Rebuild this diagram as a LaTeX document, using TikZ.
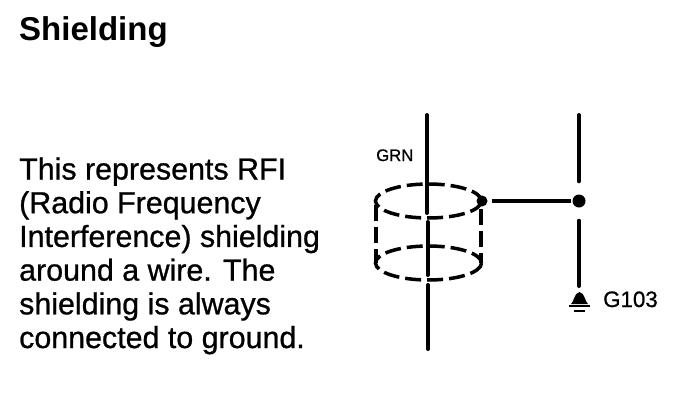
\documentclass[tikz,border=0pt]{standalone}
\usepackage{fontspec}
\setmainfont{Liberation Sans}
\newfontfamily\heavyfont[FakeBold=0.8]{Liberation Sans}
\begin{document}
\begin{tikzpicture}
  [
    x=1pt, y=-1pt,
    wire/.style={line width=4pt, line cap=round},
    shield/.style={line width=3.5pt, dash pattern=on 16pt off 6pt},
    splice/.style={circle, fill=black, inner sep=0pt, minimum size=#1},
    body/.style={anchor=base west, inner sep=0pt, align=left, font=\heavyfont\fontsize{30.4}{33.7}\selectfont},
    heading/.style={anchor=base west, inner sep=0pt, font=\bfseries\fontsize{33}{33}\selectfont},
    tag/.style={inner sep=0pt, font=\heavyfont\fontsize{#1}{#1}\selectfont}
  ]
  \useasboundingbox (0, 0) rectangle (688, 404);

  \node[heading] (title) at (19, 41) {Shielding};
  \node[body] (text) at (19, 348) {This represents RFI\\(Radio Frequency\\Interference) shielding\\around a wire. The\\shielding is always\\connected to ground.};

  \node[tag=16.7, anchor=base west] (grn) at (376, 161) {GRN};
  \node[tag=22.3, anchor=base west] (g103) at (603, 307) {G103};

  % shield
  \draw[shield] (428.5, 201) ellipse[x radius=53, y radius=17];
  \draw[shield] (428.5, 263) ellipse[x radius=53, y radius=17];
  \draw[shield] (376, 205) -- (376, 263);
  \draw[shield] (481, 209) -- (481, 263);

  % wires
  \node[splice=11pt] (shieldtap) at (482, 201) {};
  \node[splice=13pt] (junction) at (579, 201) {};
  \coordinate (wiretop) at (427, 115);
  \coordinate (wirea) at (427, 213);
  \coordinate (wireb) at (427.5, 222);
  \coordinate (wirec) at (427.5, 275);
  \coordinate (wired) at (428, 285);
  \coordinate (wirebottom) at (428, 349);
  \coordinate (groundtop) at (579, 115);
  \coordinate (groundwire) at (579, 286);
  \draw[wire] (wiretop) -- (wirea);
  \draw[wire] (wireb) -- (wirec);
  \draw[wire] (wired) -- (wirebottom);
  \draw[wire, shorten >=13pt] (groundtop) -- (junction);
  \draw[wire, shorten <=13pt] (junction) -- (groundwire);
  \draw[line width=4.5pt] ([xshift=10pt]shieldtap.center) -- ([xshift=-8pt]junction.center);

  % ground
  \fill (571, 304) .. controls (574, 302) and (574, 293) .. (579.5, 292) .. controls (585, 293) and (585, 302) .. (588, 304) -- cycle;
  \draw[line width=2.5pt] (569, 306) -- (590, 306);
  \draw[line width=2.5pt] (574, 311) -- (585, 311);
\end{tikzpicture}
\end{document}
